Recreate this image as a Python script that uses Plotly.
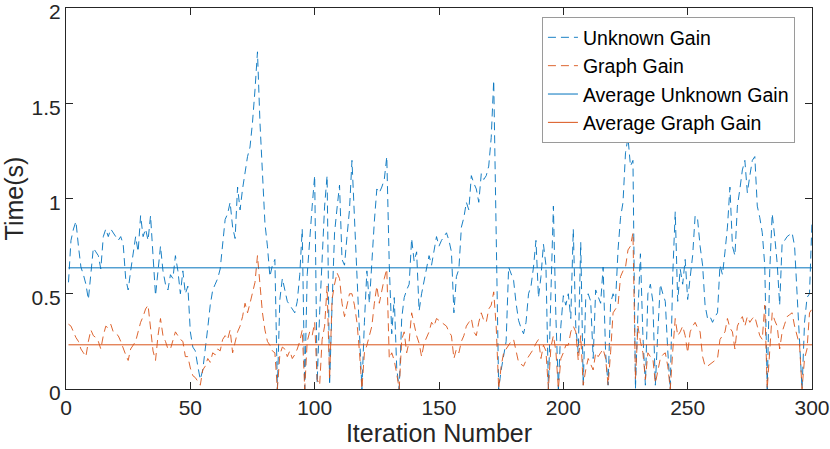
import plotly.graph_objects as go

# iterations 1..300
iterations = list(range(1, 301))

unknown_gain = [
    0.56, 0.78, 0.84, 0.88, 0.75, 0.64, 0.60, 0.55, 0.47, 0.62,
    0.74, 0.72, 0.70, 0.63, 0.80, 0.84, 0.80, 0.84, 0.82, 0.80,
    0.78, 0.80, 0.76, 0.58, 0.52, 0.62, 0.70, 0.80, 0.72, 0.91,
    0.80, 0.84, 0.78, 0.91, 0.70, 0.49, 0.62, 0.75, 0.62, 0.55,
    0.52, 0.60, 0.58, 0.70, 0.62, 0.50, 0.62, 0.50, 0.54, 0.30,
    0.22, 0.20, 0.12, 0.05, 0.10, 0.20, 0.32, 0.44, 0.52, 0.55,
    0.58, 0.63, 0.75, 0.89, 0.92, 0.98, 0.85, 0.79, 1.06, 0.94,
    1.05, 1.13, 1.22, 1.27, 1.40, 1.57, 1.77, 1.40, 1.10, 0.87,
    0.75, 0.59, 0.65, 0.68, 0.00, 0.47, 0.58, 0.52, 0.46, 0.44,
    0.42, 0.40, 0.46, 0.60, 0.84, 0.00, 0.60, 0.80, 0.96, 1.12,
    0.03, 0.40, 0.70, 0.96, 1.12, 0.02, 0.44, 0.82, 0.95, 1.07,
    0.68, 0.65, 0.80, 0.94, 1.20, 0.88, 0.55, 0.29, 0.00, 0.35,
    0.62, 0.45, 0.68, 0.88, 1.05, 1.03, 1.06, 1.10, 1.22, 0.65,
    0.29, 0.48, 0.11, 0.00, 0.37, 0.48, 0.52, 0.55, 0.79, 0.67,
    0.72, 0.41, 0.50, 0.57, 0.62, 0.70, 0.65, 0.72, 0.80, 0.75,
    0.78, 0.80, 0.82, 0.78, 0.72, 0.40, 0.59, 0.63, 0.85, 0.90,
    0.98, 0.94, 1.12, 1.08, 1.05, 0.98, 1.13, 1.10, 1.12, 1.17,
    1.32, 1.62, 0.69, 0.00, 0.10, 0.18, 0.25, 0.64, 0.60, 0.57,
    0.45, 0.36, 0.32, 0.29, 0.35, 0.50, 0.54, 0.64, 0.78, 0.48,
    0.59, 0.76, 0.65, 0.00, 0.50, 0.96, 0.38, 0.00, 0.33, 0.49,
    0.44, 0.50, 0.37, 0.84, 0.33, 0.19, 0.77, 0.02, 0.47, 0.50,
    0.46, 0.16, 0.52, 0.48, 0.45, 0.64, 0.19, 0.02, 0.45, 0.50,
    0.46, 0.73, 0.90, 0.98, 1.24, 1.32, 1.17, 1.20, 0.00, 0.40,
    0.71, 0.28, 0.02, 0.50, 0.55, 0.46, 0.02, 0.30, 0.55, 0.50,
    0.46, 0.20, 0.00, 0.60, 0.93, 0.46, 0.63, 0.55, 0.68, 0.47,
    0.58, 0.70, 0.91, 0.89, 0.75, 0.65, 0.44, 0.37, 0.38, 0.35,
    0.38, 0.40, 0.65, 0.60, 0.72, 0.85, 1.06, 0.75, 0.70, 0.96,
    1.05, 1.15, 1.20, 1.03, 1.12, 1.20, 1.22, 0.96, 0.90, 0.82,
    0.65, 0.00, 0.62, 0.92, 0.80, 0.66, 0.44, 0.77, 0.78, 0.80,
    0.81, 0.82, 0.75, 0.50, 0.26, 0.00, 0.35, 0.48, 0.50, 0.88,
]

graph_gain = [
    0.34, 0.33, 0.30, 0.27, 0.25, 0.21, 0.19, 0.17, 0.25, 0.31,
    0.28, 0.27, 0.25, 0.21, 0.28, 0.33, 0.32, 0.34, 0.30, 0.29,
    0.28, 0.25, 0.21, 0.18, 0.15, 0.21, 0.23, 0.25, 0.30, 0.35,
    0.38, 0.42, 0.44, 0.31, 0.20, 0.15, 0.28, 0.37, 0.28, 0.25,
    0.21, 0.21, 0.25, 0.30, 0.28, 0.26, 0.25, 0.17, 0.17, 0.11,
    0.07, 0.06, 0.04, 0.02, 0.10, 0.12, 0.16, 0.14, 0.19, 0.18,
    0.21, 0.20, 0.26, 0.28, 0.26, 0.31, 0.19, 0.25, 0.30, 0.33,
    0.38, 0.45, 0.40, 0.45, 0.50, 0.56, 0.70, 0.54, 0.40, 0.31,
    0.25, 0.23, 0.20, 0.19, 0.00, 0.18, 0.22, 0.21, 0.17, 0.20,
    0.16, 0.18, 0.21, 0.25, 0.31, 0.00, 0.25, 0.30, 0.28, 0.35,
    0.05, 0.02, 0.26, 0.33, 0.54, 0.05, 0.47, 0.55, 0.61, 0.58,
    0.45, 0.38, 0.45, 0.50, 0.50, 0.44, 0.35, 0.20, 0.00, 0.19,
    0.23, 0.28, 0.33, 0.45, 0.54, 0.45, 0.52, 0.58, 0.63, 0.16,
    0.19, 0.15, 0.08, 0.00, 0.26, 0.30, 0.19, 0.25, 0.40, 0.33,
    0.28, 0.24, 0.17, 0.24, 0.27, 0.30, 0.35, 0.33, 0.37, 0.36,
    0.35, 0.34, 0.33, 0.30, 0.28, 0.16, 0.21, 0.19, 0.25, 0.28,
    0.33, 0.35, 0.37, 0.30, 0.28, 0.35, 0.40, 0.36, 0.35, 0.42,
    0.44, 0.51, 0.33, 0.00, 0.12, 0.19, 0.21, 0.23, 0.25, 0.26,
    0.20, 0.14, 0.13, 0.12, 0.15, 0.17, 0.19, 0.21, 0.24, 0.26,
    0.16, 0.23, 0.20, 0.00, 0.22, 0.28, 0.20, 0.00, 0.16, 0.19,
    0.23, 0.23, 0.30, 0.33, 0.30, 0.15, 0.28, 0.02, 0.10, 0.16,
    0.13, 0.10, 0.19, 0.17, 0.19, 0.21, 0.16, 0.02, 0.19, 0.40,
    0.42, 0.44, 0.59, 0.62, 0.64, 0.73, 0.75, 0.82, 0.05, 0.33,
    0.25, 0.19, 0.05, 0.19, 0.17, 0.16, 0.03, 0.09, 0.16, 0.18,
    0.19, 0.12, 0.00, 0.20, 0.37, 0.28, 0.30, 0.33, 0.28, 0.19,
    0.30, 0.33, 0.35, 0.32, 0.30, 0.17, 0.12, 0.12, 0.13, 0.14,
    0.15, 0.16, 0.26, 0.28, 0.30, 0.37, 0.32, 0.30, 0.21, 0.33,
    0.36, 0.38, 0.33, 0.38, 0.35, 0.37, 0.38, 0.33, 0.28, 0.26,
    0.44, 0.00, 0.23, 0.40, 0.36, 0.33, 0.21, 0.30, 0.34, 0.38,
    0.39, 0.40, 0.33, 0.28, 0.23, 0.00, 0.16, 0.21, 0.40, 0.42,
]

avg_unknown = 0.636
avg_graph = 0.232

x_ticks = [0, 50, 100, 150, 200, 250, 300]
y_ticks = [0, 0.5, 1, 1.5, 2]
y_tick_text = ["0", "0.5", "1", "1.5", "2"]

BLUE = "#0072BD"
ORANGE = "#D95319"
AXIS = "#262626"
DASH = "8px,5px"

fig = go.Figure()
fig.add_trace(go.Scatter(x=iterations, y=unknown_gain, mode="lines", name="Unknown Gain",
                         line=dict(color=BLUE, width=0.9, dash=DASH)))
fig.add_trace(go.Scatter(x=iterations, y=graph_gain, mode="lines", name="Graph Gain",
                         line=dict(color=ORANGE, width=0.9, dash=DASH)))
fig.add_trace(go.Scatter(x=[iterations[0], iterations[-1]], y=[avg_unknown, avg_unknown],
                         mode="lines", name="Average Unknown Gain",
                         line=dict(color=BLUE, width=1)))
fig.add_trace(go.Scatter(x=[iterations[0], iterations[-1]], y=[avg_graph, avg_graph],
                         mode="lines", name="Average Graph Gain",
                         line=dict(color=ORANGE, width=1)))

axis_style = dict(
    showgrid=False, zeroline=False, showline=True, linecolor=AXIS, linewidth=1,
    mirror="ticks", ticks="inside", ticklen=7, tickcolor=AXIS,
    automargin=False, ticklabeloverflow="allow",
    tickfont=dict(size=21, color=AXIS), title_font=dict(size=25, color=AXIS),
)

fig.update_xaxes(range=[0, 300], tickvals=x_ticks, title_text="Iteration Number",
                 title_standoff=2, **axis_style)
# nudge the y labels down a little so the top "2" is not cut by the page edge
fig.update_yaxes(range=[0, 2], tickvals=y_ticks, ticktext=y_tick_text, title_text="Time(s)",
                 title_standoff=2, ticklabelshift=4, **axis_style)

fig.update_layout(
    width=830, height=449,
    margin=dict(l=66, r=18, t=8, b=60),
    paper_bgcolor="white", plot_bgcolor="white",
    font=dict(family="Liberation Sans, Arial, sans-serif", color="black"),
    legend=dict(x=0.638, y=0.976, xanchor="left", yanchor="top",
                bgcolor="white", bordercolor="#9a9a9a", borderwidth=1,
                font=dict(size=19.5, color="black"), tracegroupgap=0,
                itemwidth=30),
)

# the page's default body margin would shift the figure by 8px
fig.write_html("out.html", config={"displayModeBar": False},
               post_script="document.body.style.margin = '0';")
